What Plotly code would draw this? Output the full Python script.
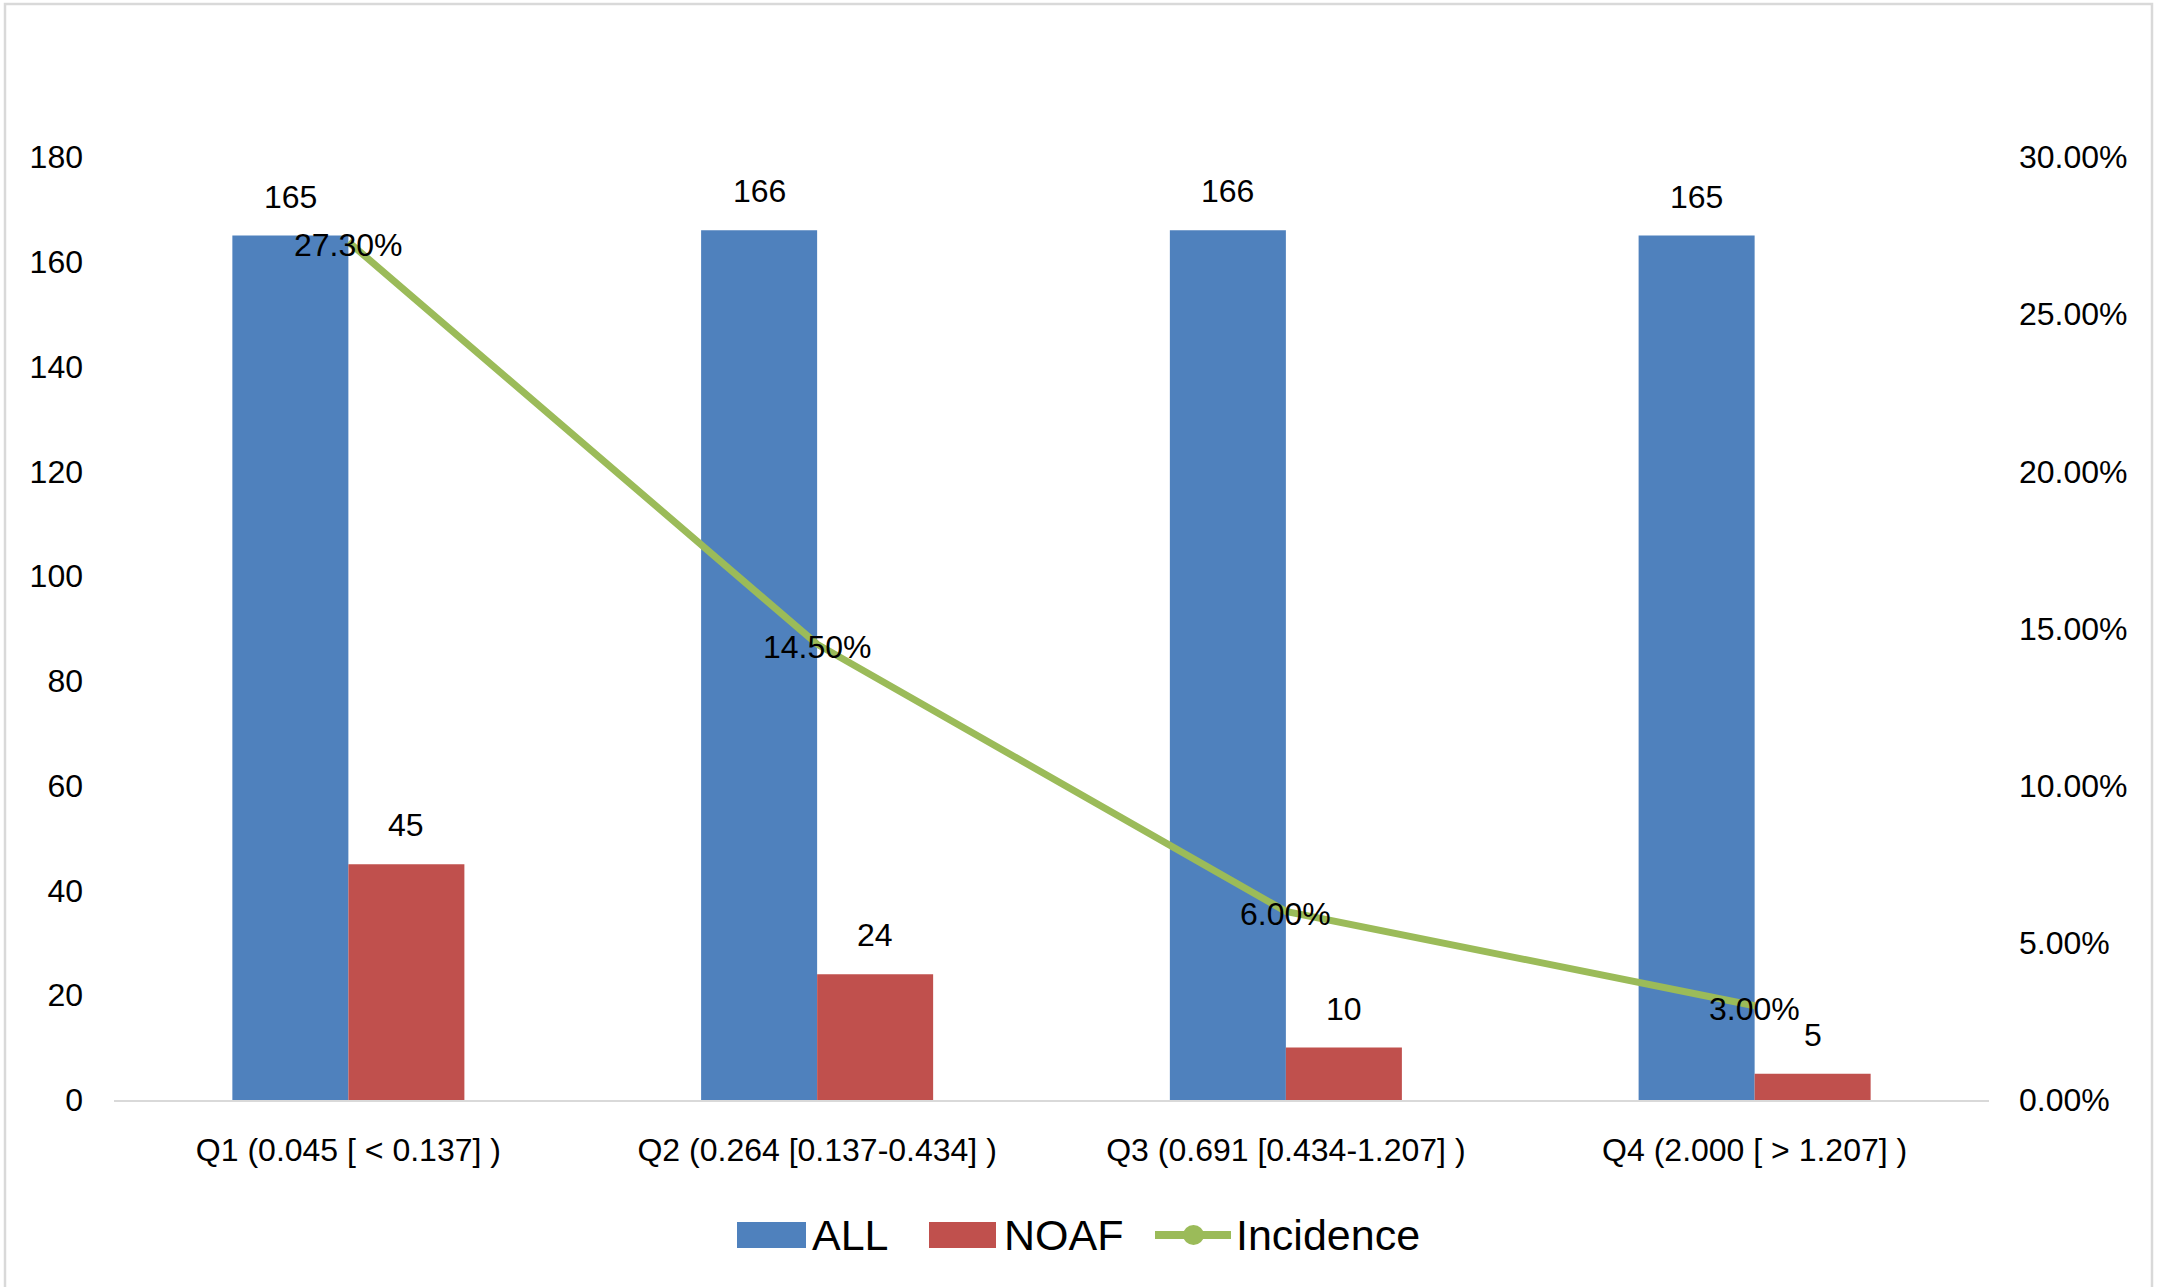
import plotly.graph_objects as go

categories = ["Q1 (0.045 [ < 0.137] )", "Q2 (0.264 [0.137-0.434] )",
              "Q3 (0.691 [0.434-1.207] )", "Q4 (2.000 [ > 1.207] )"]
all_counts = [165, 166, 166, 165]
noaf_counts = [45, 24, 10, 5]
incidence = [0.273, 0.145, 0.060, 0.030]
left_ticks = [0, 20, 40, 60, 80, 100, 120, 140, 160, 180]
right_ticks = [0, 0.05, 0.10, 0.15, 0.20, 0.25, 0.30]

BLUE = "#4F81BD"
RED = "#C0504D"
GREEN = "#9BBB59"
FONT = "Liberation Sans, Arial, sans-serif"
TXT = 32

W, H = 2161, 1287
L, R, T, B = 114, 172, 157, 187
PW, PH = W - L - R, H - T - B


def px(x):
    return (x - L) / PW


def py(y):
    return (H - B - y) / PH


fig = go.Figure()
fig.add_trace(go.Bar(x=categories, y=all_counts, name="ALL",
                     marker=dict(color=BLUE, line=dict(width=0)),
                     showlegend=False))
fig.add_trace(go.Bar(x=categories, y=noaf_counts, name="NOAF",
                     marker=dict(color=RED, line=dict(width=0)),
                     showlegend=False))
fig.add_trace(go.Scatter(x=categories, y=incidence, name="Incidence", yaxis="y2",
                         mode="lines", line=dict(color=GREEN, width=7),
                         cliponaxis=False, showlegend=False))

annotations = []
for c, v in zip(categories, all_counts):
    annotations.append(dict(x=c, y=v, xref="x", yref="y", text=str(v), showarrow=False,
                            xshift=-58, yshift=39, yanchor="middle",
                            font=dict(family=FONT, size=TXT, color="black")))
for c, v in zip(categories, noaf_counts):
    annotations.append(dict(x=c, y=v, xref="x", yref="y", text=str(v), showarrow=False,
                            xshift=58, yshift=39, yanchor="middle",
                            font=dict(family=FONT, size=TXT, color="black")))
for c, v in zip(categories, incidence):
    annotations.append(dict(x=c, y=v, xref="x", yref="y2", text=f"{v:.2%}", showarrow=False,
                            yshift=-3, yanchor="middle",
                            font=dict(family=FONT, size=TXT, color="black")))

# custom legend
legend_y = 1235
leg_font = dict(family=FONT, size=43, color="black")
shapes = [
    dict(type="rect", xref="paper", yref="paper", x0=px(5), x1=px(2152), y0=py(1300), y1=py(4),
         line=dict(color="#D9D9D9", width=2.5), fillcolor="rgba(0,0,0,0)", layer="below"),
    dict(type="rect", xref="paper", yref="paper", x0=px(737), x1=px(806), y0=py(1248), y1=py(1222),
         line=dict(width=0), fillcolor=BLUE),
    dict(type="rect", xref="paper", yref="paper", x0=px(929), x1=px(996), y0=py(1248), y1=py(1222),
         line=dict(width=0), fillcolor=RED),
    dict(type="line", xref="paper", yref="paper", x0=px(1155), x1=px(1231), y0=py(legend_y), y1=py(legend_y),
         line=dict(color=GREEN, width=8)),
    dict(type="circle", xref="paper", yref="paper", x0=px(1183), x1=px(1204), y0=py(1245), y1=py(1225),
         line=dict(width=0), fillcolor=GREEN),
]
for label, xleft in [("ALL", 810), ("NOAF", 1002), ("Incidence", 1234)]:
    annotations.append(dict(x=px(xleft), y=py(legend_y), xref="paper", yref="paper", text=label,
                            showarrow=False, xanchor="left", yanchor="middle", font=leg_font))

fig.update_layout(
    width=W, height=H,
    margin=dict(l=L, r=R, t=T, b=B, pad=0),
    paper_bgcolor="white", plot_bgcolor="white",
    barmode="group", bargap=0.505, bargroupgap=0,
    showlegend=False,
    font=dict(family=FONT, size=TXT, color="black"),
    xaxis=dict(tickvals=categories,
               ticktext=[c.replace("<", "&lt;").replace(">", "&gt;") for c in categories],
               showline=True, linecolor="#D9D9D9", linewidth=2, showgrid=False,
               ticks="", ticklabelstandoff=21, zeroline=False,
               tickfont=dict(family=FONT, size=TXT, color="black")),
    yaxis=dict(range=[0, 180], tickvals=left_ticks, showgrid=False, zeroline=False,
               showline=False, ticks="", ticklabelstandoff=30,
               tickfont=dict(family=FONT, size=TXT, color="black")),
    yaxis2=dict(range=[0, 0.30], tickvals=right_ticks, tickformat=".2%", overlaying="y",
                side="right", showgrid=False, zeroline=False, showline=False, ticks="",
                ticklabelstandoff=29, tickfont=dict(family=FONT, size=TXT, color="black")),
    annotations=annotations,
    shapes=shapes,
)

fig.write_html("out.html", config={"displayModeBar": False},
               post_script="document.body.style.margin='0';")
